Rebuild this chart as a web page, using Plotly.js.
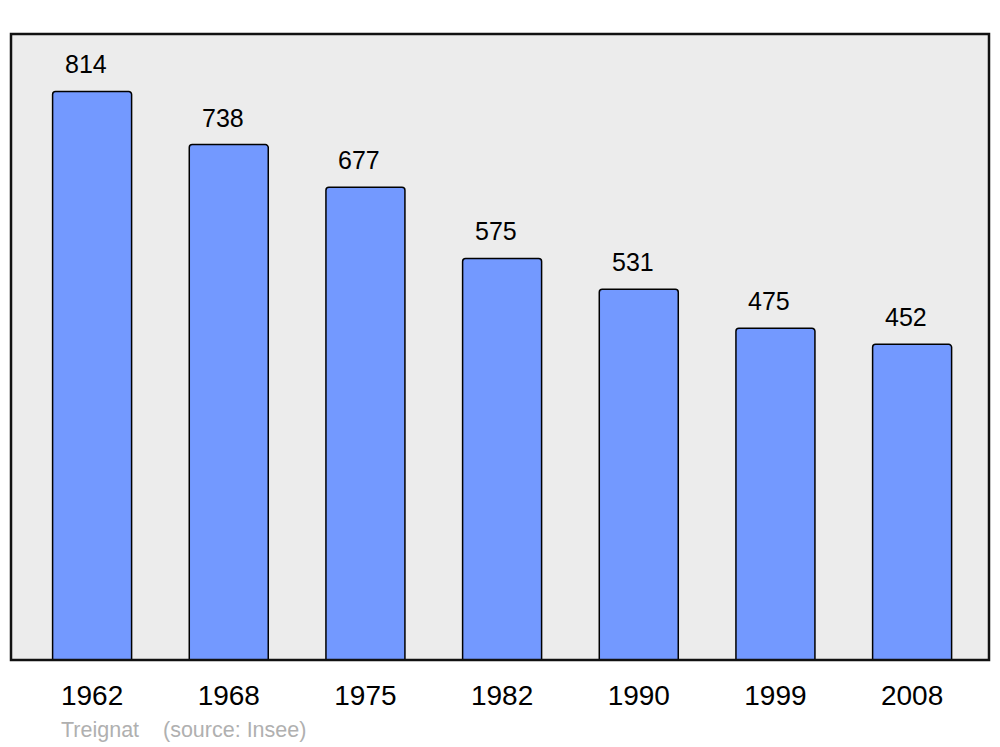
<!DOCTYPE html>
<html><head><meta charset="utf-8">
<script src="https://cdn.plot.ly/plotly-3.0.1.min.js"></script>
<style>html,body{margin:0;padding:0;background:#fff;}#chart{width:1000px;height:747px;}</style>
</head><body><div id="chart"></div>
<script>
const years = ["1962","1968","1975","1982","1990","1999","2008"];
const population = [814,738,677,575,531,475,452];
const placeName = "Treignat";
const sourceText = "(source: Insee)";

const FONT = "Liberation Sans, Arial, sans-serif";
const trace = {
  type: "bar", x: years, y: population, width: 0.578,
  marker: {color: "#7399ff", line: {color: "#000", width: 1.5}, cornerradius: 3},
  hoverinfo: "x+y"
};
const annotations = years.map((yr, i) => ({
  x: i, y: population[i], xref: "x", yref: "y", text: String(population[i]),
  showarrow: false, yanchor: "middle", yshift: 27, xshift: -6,
  font: {family: FONT, size: 25, color: "#000"}
}));
annotations.push({xref: "paper", yref: "paper", x: 48/978, y: -70/626, xanchor: "left", yanchor: "middle",
  text: placeName, showarrow: false, font: {family: FONT, size: 21.5, color: "#b0b0b0"}});
annotations.push({xref: "paper", yref: "paper", x: 150/978, y: -70/626, xanchor: "left", yanchor: "middle",
  text: sourceText, showarrow: false, font: {family: FONT, size: 21.5, color: "#b0b0b0"}});

const layout = {
  width: 1000, height: 747,
  margin: {l: 11, r: 11, t: 34, b: 87, pad: 0},
  paper_bgcolor: "#fff", plot_bgcolor: "#ececec",
  showlegend: false,
  xaxis: {type: "category", range: [-0.5934, 6.5626], showgrid: false, zeroline: false, showline: false,
    ticks: "", ticklabelstandoff: 16,
    tickfont: {family: FONT, size: 28, color: "#000"}},
  yaxis: {range: [0, 896.3], showgrid: false, zeroline: false, showline: false, showticklabels: false, ticks: ""},
  shapes: [{type: "rect", xref: "paper", yref: "paper", x0: 0, x1: 1, y0: 0, y1: 1,
    line: {color: "#111", width: 2.5}, fillcolor: "rgba(0,0,0,0)", layer: "above"}],
  annotations: annotations
};
Plotly.newPlot("chart", [trace], layout, {displayModeBar: false, staticPlot: true});
</script></body></html>
